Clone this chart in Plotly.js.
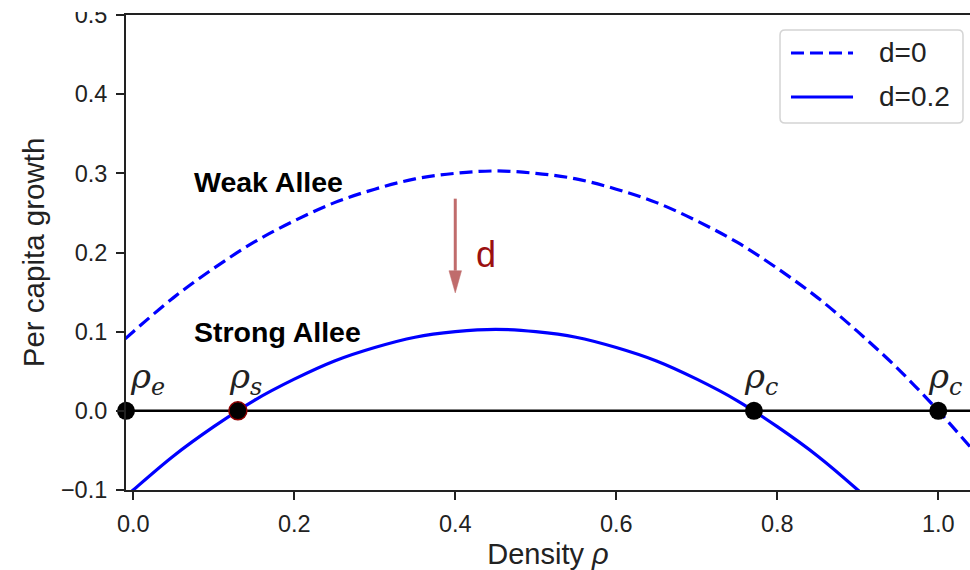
<!DOCTYPE html>
<html>
<head>
<meta charset="utf-8">
<script src="https://cdn.plot.ly/plotly-3.0.1.min.js"></script>
<style>
html,body{margin:0;padding:0;overflow:hidden;background:#fff;}
#chart{width:970px;height:570px;}
</style>
</head>
<body>
<div id="chart"></div>
<script>
// Density values (x)
const rho = [-0.01, 0.00, 0.05, 0.10, 0.15, 0.20, 0.25, 0.30, 0.35, 0.40, 0.45, 0.50,
             0.55, 0.60, 0.65, 0.70, 0.75, 0.80, 0.85, 0.90, 0.95, 1.00, 1.04];
// Per capita growth, d = 0 (dashed)
const growthD0 = [0.091, 0.100, 0.143, 0.180, 0.213, 0.240, 0.263, 0.280, 0.293, 0.300, 0.303, 0.300,
                  0.293, 0.280, 0.263, 0.240, 0.213, 0.180, 0.143, 0.100, 0.053, 0.000, -0.046];
// Per capita growth, d = 0.2 (solid)
const growthD02 = [-0.109, -0.100, -0.057, -0.020, 0.013, 0.040, 0.063, 0.080, 0.093, 0.100, 0.103, 0.100,
                   0.093, 0.080, 0.063, 0.040, 0.013, -0.020, -0.057, -0.100, -0.147, -0.200, -0.246];
// Zero line
const zeroX = [-0.009, 1.04];
const zeroY = [0, 0];
// Fixed points
const fixedNames = ['e', 's', 'c', 'c'];
const fixedX = [-0.009, 0.130, 0.771, 1.000];
const fixedY = [0, 0, 0, 0];
const fixedLabelX = [-0.007, 0.116, 0.756, 0.985];
// Tick values
const xTicks = [0.0, 0.2, 0.4, 0.6, 0.8, 1.0];
const yTicks = [-0.1, 0.0, 0.1, 0.2, 0.3, 0.4, 0.5];
const seriesNames = ['d=0', 'd=0.2'];

const blue = '#0000ff';
const axisCol = '#222222';
const arrowCol = '#c06c6c';

const traces = [
  {x: zeroX, y: zeroY, mode: 'lines', line: {color: '#000', width: 2.5}, showlegend: false, hoverinfo: 'skip', cliponaxis: false},
  {x: rho, y: growthD0, name: seriesNames[0], mode: 'lines', line: {color: blue, width: 3.2, dash: '13px,6px', shape: 'spline'}, showlegend: false},
  {x: rho, y: growthD02, name: seriesNames[1], mode: 'lines', line: {color: blue, width: 3.2, shape: 'spline'}, showlegend: false},
  {x: fixedX, y: fixedY, mode: 'markers', cliponaxis: false, showlegend: false,
   marker: {color: '#000', size: 18, line: {color: ['#000', '#8b0000', '#000', '#000'], width: [0, 1.5, 0, 0]}}}
];

const annotations = [];
for (let i = 0; i < fixedX.length; i++) {
  annotations.push({
    x: fixedLabelX[i], y: 0.041, xref: 'x', yref: 'y', xanchor: 'left', yanchor: 'middle',
    text: '<i>ρ<sub>' + fixedNames[i] + '</sub></i>', showarrow: false,
    font: {family: 'DejaVu Serif', size: 34, color: '#222'}
  });
}
annotations.push({x: 0.073, y: 0.289, xref: 'x', yref: 'y', xanchor: 'left', yanchor: 'middle',
  text: '<b>Weak Allee</b>', showarrow: false, font: {family: 'Liberation Sans', size: 28.5, color: '#000'}});
annotations.push({x: 0.073, y: 0.0998, xref: 'x', yref: 'y', xanchor: 'left', yanchor: 'middle',
  text: '<b>Strong Allee</b>', showarrow: false, font: {family: 'Liberation Sans', size: 28.5, color: '#000'}});
annotations.push({x: 0.438, y: 0.197, xref: 'x', yref: 'y', xanchor: 'center', yanchor: 'middle',
  text: 'd', showarrow: false, font: {family: 'Liberation Sans', size: 36, color: '#9b1010'}});
// manual legend texts
annotations.push({x: 0.8898, y: 0.920, xref: 'paper', yref: 'paper', xanchor: 'left', yanchor: 'middle',
  text: seriesNames[0], showarrow: false, font: {family: 'Liberation Sans', size: 28, color: '#222'}});
annotations.push({x: 0.8898, y: 0.8274, xref: 'paper', yref: 'paper', xanchor: 'left', yanchor: 'middle',
  text: seriesNames[1], showarrow: false, font: {family: 'Liberation Sans', size: 28, color: '#222'}});

// legend box (rounded) in paper coords
const bx0 = 0.7749, bx1 = 0.9917, by0 = 0.7726, by1 = 0.9684, rx = 0.006, ry = 0.0105;
const boxPath = 'M ' + (bx0 + rx) + ',' + by1 + ' L ' + (bx1 - rx) + ',' + by1 +
  ' Q ' + bx1 + ',' + by1 + ' ' + bx1 + ',' + (by1 - ry) +
  ' L ' + bx1 + ',' + (by0 + ry) + ' Q ' + bx1 + ',' + by0 + ' ' + (bx1 - rx) + ',' + by0 +
  ' L ' + (bx0 + rx) + ',' + by0 + ' Q ' + bx0 + ',' + by0 + ' ' + bx0 + ',' + (by0 + ry) +
  ' L ' + bx0 + ',' + (by1 - ry) + ' Q ' + bx0 + ',' + by1 + ' ' + (bx0 + rx) + ',' + by1 + ' Z';

// arrow "d" (shaft + head) in data coords
const arrowX = 0.4, arrowTop = 0.268, arrowTip = 0.149, headLen = 0.028, headHalf = 0.0078;
const headPath = 'M ' + (arrowX - headHalf) + ',' + (arrowTip + headLen) + ' L ' + (arrowX + headHalf) + ',' + (arrowTip + headLen) +
  ' L ' + arrowX + ',' + arrowTip + ' Z';

const shapes = [
  {type: 'line', xref: 'x', yref: 'y', x0: arrowX, x1: arrowX, y0: arrowTop, y1: arrowTip + headLen, line: {color: arrowCol, width: 3}},
  {type: 'path', xref: 'x', yref: 'y', path: headPath, fillcolor: arrowCol, line: {color: arrowCol, width: 0.5}},
  {type: 'path', path: boxPath, xref: 'paper', yref: 'paper', fillcolor: '#fff', line: {color: '#d4d4d4', width: 1.5}, layer: 'above'},
  {type: 'line', xref: 'paper', yref: 'paper', x0: 0.7879, x1: 0.8614, y0: 0.920, y1: 0.920, line: {color: blue, width: 3.2, dash: '13px,6px'}, layer: 'above'},
  {type: 'line', xref: 'paper', yref: 'paper', x0: 0.7879, x1: 0.8614, y0: 0.8274, y1: 0.8274, line: {color: blue, width: 3.2}, layer: 'above'},
  // crop of the top of the image (cuts the "0.5" label as in the reference)
  {type: 'rect', xref: 'paper', yref: 'paper', x0: -0.16, x1: -0.011, y0: 1.0063, y1: 1.04, fillcolor: '#fff', line: {width: 0}, layer: 'above'}
];

const layout = {
  width: 970, height: 570,
  margin: {l: 126, r: 0, t: 15, b: 80, pad: 0},
  paper_bgcolor: '#fff', plot_bgcolor: '#fff',
  showlegend: false,
  font: {family: 'Liberation Sans', color: '#222'},
  xaxis: {
    range: [-0.009, 1.0394], tickvals: xTicks, tickformat: '.1f',
    showline: true, mirror: true, linecolor: axisCol, linewidth: 2,
    ticks: 'outside', ticklen: 8, tickwidth: 2, tickcolor: axisCol,
    showgrid: false, zeroline: false, automargin: false,
    tickfont: {size: 23.5, color: '#222'}, ticklabelstandoff: 4,
    title: {text: 'Density <i>ρ</i>', font: {size: 29, color: '#222'}, standoff: 8}
  },
  yaxis: {
    range: [-0.1, 0.5], tickvals: yTicks, tickformat: '.1f',
    showline: true, mirror: false, linecolor: axisCol, linewidth: 2,
    ticks: 'outside', ticklen: 8, tickwidth: 2, tickcolor: axisCol,
    showgrid: false, zeroline: false, automargin: false,
    tickfont: {size: 23.5, color: '#222'}, ticklabelstandoff: 4,
    title: {text: 'Per capita growth', font: {size: 29.5, color: '#222'}, standoff: 8}
  },
  annotations: annotations,
  shapes: shapes
};

Plotly.newPlot('chart', traces, layout, {displayModeBar: false, staticPlot: true});
</script>
</body>
</html>
